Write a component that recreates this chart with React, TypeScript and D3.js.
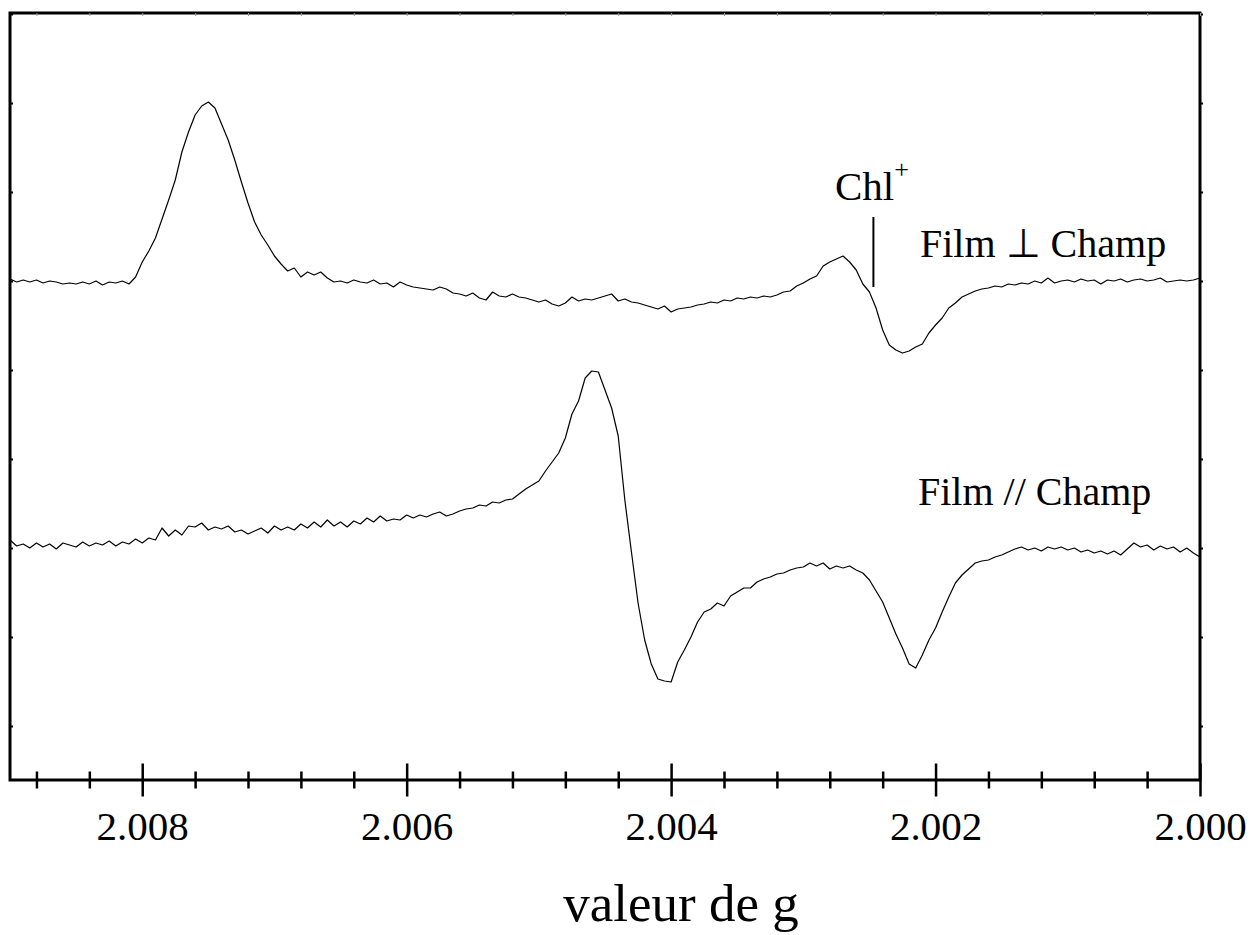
import React, { useEffect, useRef } from "react";
import * as d3 from "d3";

const W = 1253;
const H = 935;

// sampling of both spectra: g from 2.009 down to 2.000, step 0.00005
const gStart = 2.009;
const gStep = 0.00005;

// Film ⊥ Champ, signal relative to its own baseline (a.u.)
const perpSignal = [
  2, -1, 1, -1, 1, -2, 0, -1, -3, -2, -3, -1, -3, 0, -4, -1, -2, 0, -3, 4,
  19, 30, 43, 62, 81, 101, 129, 149, 166, 175, 179, 173, 157, 141, 121, 99, 78, 59, 46, 36,
  25, 17, 10, 13, 4, 9, 6, 9, 3, -1, 0, -2, 1, -1, -2, 1, -3, -2, -6, -1,
  -4, -6, -7, -8, -9, -6, -8, -12, -13, -15, -12, -17, -19, -11, -15, -16, -13, -16, -17, -19,
  -21, -19, -23, -25, -22, -16, -20, -18, -19, -17, -15, -13, -20, -18, -21, -22, -24, -26, -28, -25,
  -31, -28, -27, -26, -24, -23, -21, -22, -19, -20, -17, -18, -16, -17, -15, -16, -14, -11, -10, -5,
  -2, 2, 5, 15, 19, 22, 25, 19, 11, -3, -11, -27, -49, -64, -69, -72, -70, -66, -63, -52,
  -44, -37, -27, -22, -16, -13, -10, -8, -7, -5, -6, -3, -4, -2, -3, 0, -2, 3, -2, 0,
  1, -1, 2, 0, 1, -3, 1, 0, 2, -1, 1, 2, 0, 1, 3, -1, 0, 1, 0, 1, 3,
];

// Film // Champ, signal relative to its own baseline (a.u.)
const paraSignal = [
  5, -1, 1, -3, 2, -2, 1, -4, 2, 0, -2, 3, -1, 2, 0, 4, -1, 3, 1, 6,
  2, 7, 5, 17, 9, 15, 10, 19, 18, 22, 15, 18, 16, 19, 13, 15, 11, 14, 17, 12,
  19, 15, 18, 15, 21, 17, 23, 18, 25, 19, 23, 18, 24, 21, 27, 23, 29, 24, 26, 25,
  30, 27, 30, 28, 31, 33, 29, 31, 34, 36, 37, 40, 39, 43, 42, 45, 46, 51, 56, 60,
  64, 74, 83, 92, 107, 131, 144, 167, 174, 173, 155, 137, 109, 45, -7, -58, -95, -119, -134, -136,
  -137, -117, -105, -92, -77, -67, -64, -58, -61, -51, -47, -43, -43, -37, -34, -32, -29, -28, -25, -23,
  -22, -18, -21, -18, -24, -21, -23, -21, -25, -28, -35, -46, -57, -73, -89, -103, -119, -123, -110, -95,
  -83, -67, -52, -38, -30, -24, -18, -16, -15, -12, -10, -7, -4, -2, -5, -3, -6, -2, -4, -2,
  -5, -3, -7, -5, -8, -6, -9, -6, -10, -4, 2, -2, 0, -5, -1, -4, -2, -7, -3, -8, -12,
];

const seriesSignals = [perpSignal, paraSignal];
const seriesOffsets = [445, 181];
const seriesLabels = ["Film \u22a5 Champ", "Film // Champ"];

const majorTicks = [2.008, 2.006, 2.004, 2.002, 2.0];
const minorTicks = [
  2.0088, 2.0084, 2.0076, 2.0072, 2.0068, 2.0064, 2.0056, 2.0052, 2.0048,
  2.0044, 2.0036, 2.0032, 2.0028, 2.0024, 2.0016, 2.0012, 2.0008, 2.0004,
];
const yTicks = [0, 89, 178, 267, 356, 445, 534, 623, 712];

// Chl+ marker
const chlG = 2.00247;
const chlRange = [439, 509];

const FONT = "'Liberation Serif', 'Times New Roman', serif";

export default function App() {
  const ref = useRef<SVGSVGElement | null>(null);

  useEffect(() => {
    const svg = d3.select(ref.current);
    svg.selectAll("*").remove();

    const left = 10, right = 1200, top = 13, bottom = 780;

    const x = d3.scaleLinear().domain([2.009, 2.0]).range([left, right]);
    const y = d3.scaleLinear().domain([-54, 713]).range([bottom, top]);

    // spectra
    const line = d3.line<number>()
      .x((d, i) => x(gStart - i * gStep))
      .y((d) => y(d));

    seriesSignals.forEach((sig, k) => {
      svg.append("path")
        .datum(sig.map((v) => v + seriesOffsets[k]))
        .attr("d", line)
        .attr("fill", "none")
        .attr("stroke", "#000")
        .attr("stroke-width", 1.2)
        .attr("stroke-linejoin", "round");
    });

    // frame
    svg.append("rect")
      .attr("x", left)
      .attr("y", top)
      .attr("width", right - left)
      .attr("height", bottom - top)
      .attr("fill", "none")
      .attr("stroke", "#000")
      .attr("stroke-width", 3);

    // y ticks, small, on both sides
    const yl = svg.append("g").attr("transform", `translate(${left},0)`)
      .call(d3.axisRight(y).tickValues(yTicks).tickSize(3).tickFormat(() => ""));
    const yr = svg.append("g").attr("transform", `translate(${right},0)`)
      .call(d3.axisRight(y).tickValues(yTicks).tickSize(3).tickFormat(() => ""));
    [yl, yr].forEach((g) => {
      g.select(".domain").remove();
      g.selectAll("line").attr("stroke-width", 2);
    });

    // top edge faint ticks
    const xt = svg.append("g").attr("transform", `translate(0,${top})`)
      .call(d3.axisBottom(x).tickValues(minorTicks.concat(majorTicks)).tickSize(3).tickFormat(() => ""));
    xt.select(".domain").remove();
    xt.selectAll("line").attr("stroke", "#999").attr("stroke-width", 1);

    // bottom axis: minor ticks
    const xm = svg.append("g").attr("transform", `translate(0,${bottom - 8.5})`)
      .call(d3.axisBottom(x).tickValues(minorTicks).tickSize(17).tickFormat(() => ""));
    xm.select(".domain").remove();
    xm.selectAll("line").attr("stroke-width", 2.5);

    // bottom axis: major ticks + labels
    const xM = svg.append("g").attr("transform", `translate(0,${bottom - 16.5})`)
      .call(d3.axisBottom(x).tickValues(majorTicks).tickSize(33).tickPadding(14).tickFormat(d3.format(".3f")));
    xM.select(".domain").remove();
    xM.selectAll("line").attr("stroke-width", 2.5);
    xM.selectAll("text")
      .attr("font-family", FONT)
      .attr("font-size", 41)
      .attr("fill", "#000");

    // axis title
    svg.append("text")
      .attr("x", 681)
      .attr("y", 921)
      .attr("text-anchor", "middle")
      .attr("font-family", FONT)
      .attr("font-size", 53)
      .text("valeur de g");

    // series labels
    svg.append("text")
      .attr("x", 920)
      .attr("y", 257)
      .attr("font-family", FONT)
      .attr("font-size", 40)
      .text(seriesLabels[0]);
    svg.append("text")
      .attr("x", 918)
      .attr("y", 505)
      .attr("font-family", FONT)
      .attr("font-size", 40)
      .text(seriesLabels[1]);

    // Chl+ marker
    svg.append("line")
      .attr("x1", x(chlG)).attr("x2", x(chlG))
      .attr("y1", y(chlRange[0])).attr("y2", y(chlRange[1]))
      .attr("stroke", "#000")
      .attr("stroke-width", 2);

    const chl = svg.append("text")
      .attr("x", 835)
      .attr("y", 200)
      .attr("font-family", FONT)
      .attr("font-size", 41);
    chl.append("tspan").text("Chl");
    chl.append("tspan")
      .attr("dy", -22)
      .attr("font-size", 26)
      .text("+");
  }, []);

  return (
    <div style={{ position: "absolute", left: 0, top: 0 }}>
      <svg ref={ref} width={W} height={H} style={{ display: "block", background: "#fff" }} />
    </div>
  );
}
